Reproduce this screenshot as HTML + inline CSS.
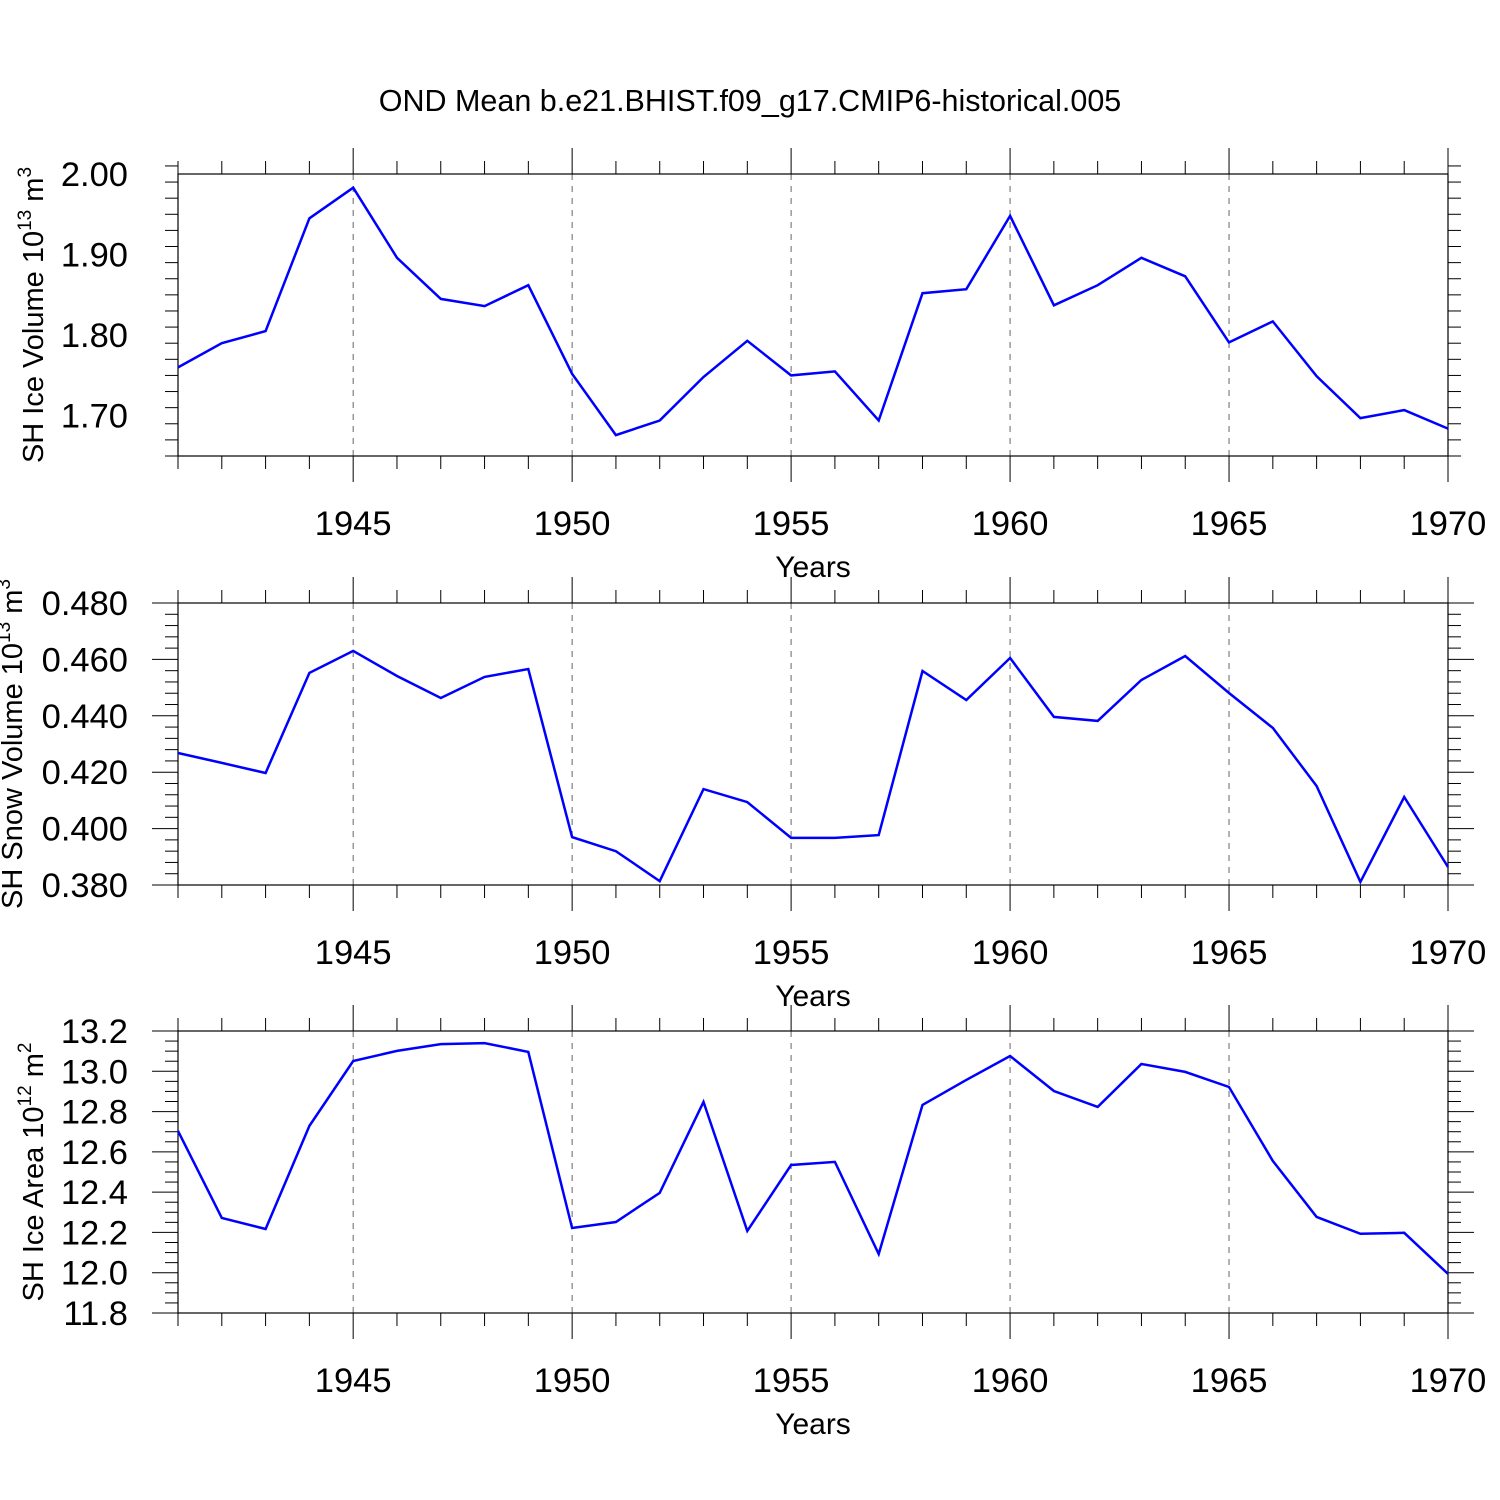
<!DOCTYPE html>
<html><head><meta charset="utf-8"><style>
html,body{margin:0;padding:0;background:#fff;}
svg{display:block;font-family:"Liberation Sans",sans-serif;}
</style></head><body>
<svg id="chart" width="1500" height="1500" viewBox="0 0 1500 1500">
<text x="750" y="111" text-anchor="middle" font-size="30.5">OND Mean b.e21.BHIST.f09_g17.CMIP6-historical.005</text>
</svg>
<script>
const years = [1941,1942,1943,1944,1945,1946,1947,1948,1949,1950,1951,1952,1953,1954,1955,1956,1957,1958,1959,1960,1961,1962,1963,1964,1965,1966,1967,1968,1969,1970];
const iceVolume = [1.760,1.790,1.805,1.945,1.983,1.896,1.845,1.836,1.862,1.752,1.676,1.694,1.748,1.793,1.750,1.755,1.694,1.852,1.857,1.948,1.837,1.862,1.896,1.873,1.791,1.817,1.749,1.697,1.707,1.684];
const snowVolume = [0.4268,0.4233,0.4197,0.4552,0.4630,0.4541,0.4463,0.4538,0.4566,0.3970,0.3920,0.3814,0.4140,0.4094,0.3967,0.3967,0.3977,0.4559,0.4456,0.4605,0.4396,0.4382,0.4527,0.4612,0.4481,0.4357,0.4151,0.3811,0.4112,0.3864];
const iceArea = [12.704,12.272,12.217,12.729,13.051,13.101,13.135,13.140,13.096,12.222,12.252,12.396,12.848,12.207,12.535,12.550,12.093,12.833,12.957,13.076,12.902,12.823,13.036,12.997,12.922,12.555,12.277,12.193,12.198,11.994];
const xTickLabels = [1945,1950,1955,1960,1965,1970];
const iceVolTicks = ["1.70","1.80","1.90","2.00"];
const snowTicks = ["0.380","0.400","0.420","0.440","0.460","0.480"];
const areaTicks = ["11.8","12.0","12.2","12.4","12.6","12.8","13.0","13.2"];

const NS="http://www.w3.org/2000/svg";
const svg=document.getElementById('chart');
const X0=178,X1=1448,XMIN=1941,XMAX=1970;
function xs(v){return X0+(v-XMIN)/(XMAX-XMIN)*(X1-X0);}
function mk(tag,attrs,parent){const e=document.createElementNS(NS,tag);for(const k in attrs)e.setAttribute(k,attrs[k]);(parent||svg).appendChild(e);return e;}

function panel(o){
  const g=mk('g',{});
  
  
  const T=o.top,B=o.top+282;
  const ys=v=>B-(v-o.ymin)/(o.ymax-o.ymin)*(B-T);
  for(const yr of [1945,1950,1955,1960,1965]){
    const l=mk('line',{x1:xs(yr),x2:xs(yr),y1:T,y2:B,stroke:'#666','stroke-width':1,'stroke-dasharray':'6,6'},g);
    
    
  }
  for(let yr=XMIN;yr<=XMAX;yr++){
    const major=yr%5===0;const len=major?26:13;const x=xs(yr);
    mk('line',{x1:x,x2:x,y1:T,y2:T-len,stroke:'#000','stroke-width':1},g);
    mk('line',{x1:x,x2:x,y1:B,y2:B+len,stroke:'#000','stroke-width':1},g);
  }
  const nMinor=Math.round((o.ymax-o.ymin)/o.minor);
  for(let i=0;i<=nMinor;i++){
    const v=o.ymin+i*o.minor;const y=ys(v);
    const rel=(v-o.majorStart)/o.major;
    const major=Math.abs(rel-Math.round(rel))<1e-6&&v>=o.majorStart-1e-9;
    const len=major?26:13;
    mk('line',{x1:X0,x2:X0-len,y1:y,y2:y,stroke:'#000','stroke-width':1},g);
    mk('line',{x1:X1,x2:X1+len,y1:y,y2:y,stroke:'#000','stroke-width':1},g);
  }
  o.ticks.forEach(t=>{
    const y=ys(parseFloat(t));
    const tx=mk('text',{x:128,y:y+12,'text-anchor':'end','font-size':34.5},g);
    tx.textContent=t;
    
    
  });
  xTickLabels.forEach(t=>{
    const tx=mk('text',{x:xs(t),y:B+79,'text-anchor':'middle','font-size':34.5},g);
    tx.textContent=t;
    
    
  });
  const xt=mk('text',{x:813,y:B+121,'text-anchor':'middle','font-size':30},g);
  xt.textContent='Years';
  
  
  const fr=mk('rect',{x:X0,y:T,width:X1-X0,height:B-T,fill:'none',stroke:'#000','stroke-width':1.2},g);
  
  
  const pts=years.map((yr,i)=>xs(yr).toFixed(1)+','+ys(o.data[i]).toFixed(1)).join(' ');
  const pl=mk('polyline',{points:pts,fill:'none',stroke:'#0000ff','stroke-width':2.5,'stroke-linejoin':'miter'},g);
  
  
  const cy=(T+B)/2;
  const yt=mk('text',{x:0,y:0,'text-anchor':'middle','font-size':29,transform:`translate(${o.ylx},${cy}) rotate(-90)`},g);
  yt.innerHTML=o.ylabel;
  
  
}

panel({name:'ice-volume-panel',top:174,ymin:1.65,ymax:2.00,minor:0.02,major:0.1,majorStart:1.70,ticks:iceVolTicks,data:iceVolume,ylx:43,
  ylabel:'SH Ice Volume 10<tspan dy="-12" font-size="19">13</tspan><tspan dy="12"> m</tspan><tspan dy="-12" font-size="19">3</tspan>'});
panel({name:'snow-volume-panel',top:603,ymin:0.38,ymax:0.48,minor:0.004,major:0.02,majorStart:0.38,ticks:snowTicks,data:snowVolume,ylx:22,
  ylabel:'SH Snow Volume 10<tspan dy="-12" font-size="19">13</tspan><tspan dy="12"> m</tspan><tspan dy="-12" font-size="19">3</tspan>'});
panel({name:'ice-area-panel',top:1031,ymin:11.8,ymax:13.2,minor:0.05,major:0.2,majorStart:11.8,ticks:areaTicks,data:iceArea,ylx:43,
  ylabel:'SH Ice Area 10<tspan dy="-12" font-size="19">12</tspan><tspan dy="12"> m</tspan><tspan dy="-12" font-size="19">2</tspan>'});
</script>
</body></html>
